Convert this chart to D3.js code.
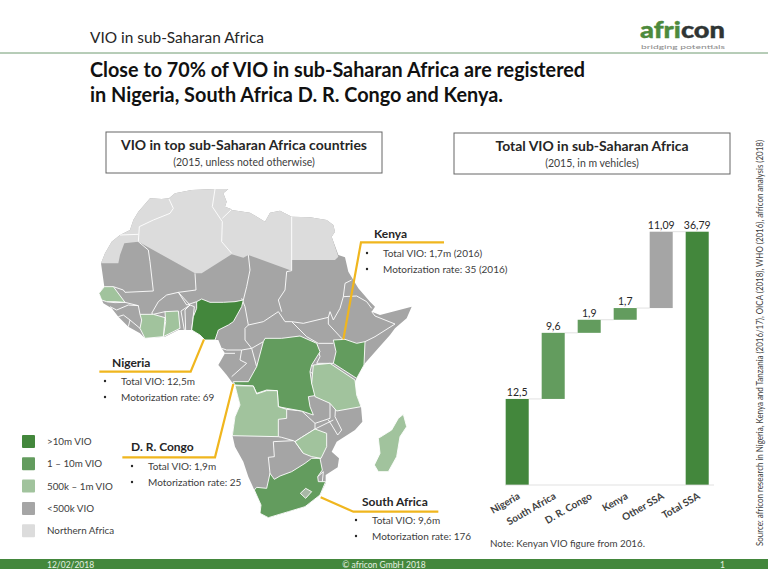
<!DOCTYPE html>
<html><head><meta charset="utf-8">
<script src="https://cdn.jsdelivr.net/npm/d3@7/dist/d3.min.js"></script>
<style>html,body{margin:0;padding:0;background:#fff}svg{display:block}text{font-family:Lato,"Open Sans",sans-serif}</style>
</head><body><svg id="c" width="768" height="576"></svg>
<script>
// ---- waterfall data
const categories=["Nigeria","South Africa","D. R. Congo","Kenya","Other SSA","Total SSA"];
const values=[12.5,9.6,1.9,1.7,11.09,36.79];
const valueLabels=["12,5","9,6","1,9","1,7","11,09","36,79"];
const barClass=["top","mid","mid","mid","small","top"];
// ---- legend
const legendLabels=[">10m VIO","1 – 10m VIO","500k – 1m VIO","<500k VIO","Northern Africa"];
const legendClass=["top","mid","light","small","north"];
const palette={top:"#43873c",mid:"#639c5e",light:"#a1c39d",small:"#a5a5a5",north:"#dcdcdc",lesotho:"#a8b8a6"};
// ---- callouts
const calloutNames=["Kenya","Nigeria","D. R. Congo","South Africa"];
const calloutVio=["Total VIO: 1,7m (2016)","Total VIO: 12,5m","Total VIO: 1,9m","Total VIO: 9,6m"];
const calloutRate=["Motorization rate: 35 (2016)","Motorization rate: 69","Motorization rate: 25","Motorization rate: 176"];
// ---- map geometry, in map-grid units (1320 x 1080 grid)
const continent=[[303,250],[315,220],[335,185],[360,165],[390,150],[400,120],[415,95],[450,55],[485,57],[507,55],[525,40],[575,30],[645,27],[685,27],[670,40],[680,65],[675,80],[693,87],[695,90],[750,98],[795,125],[810,98],[840,92],[875,110],[930,112],[980,120],[1000,135],[1005,155],[995,170],[1015,225],[1035,232],[1045,275],[1060,300],[1075,325],[1110,365],[1125,380],[1115,395],[1140,405],[1235,380],[1220,415],[1185,445],[1170,465],[1130,510],[1095,550],[1070,595],[1063,610],[1070,645],[1083,680],[1087,725],[1065,750],[1010,785],[995,815],[1017,835],[1013,862],[977,885],[977,910],[960,945],[915,980],[865,995],[805,1013],[780,1000],[783,975],[763,930],[745,890],[730,845],[705,800],[697,765],[705,710],[720,675],[705,615],[695,605],[680,585],[655,555],[675,520],[665,505],[655,480],[645,480],[615,480],[600,465],[575,450],[535,450],[495,470],[435,475],[420,460],[385,440],[355,410],[335,385],[310,370],[297,340],[313,320]];
const north=[[303,250],[315,220],[335,185],[360,165],[390,150],[400,120],[415,95],[450,55],[485,57],[507,55],[525,40],[575,30],[645,27],[685,27],[670,40],[680,65],[675,80],[693,87],[695,90],[750,98],[795,125],[810,98],[840,92],[875,110],[930,112],[980,120],[1000,135],[1005,155],[995,170],[1015,230],[1005,240],[875,240],[875,272],[745,225],[730,233],[695,223],[605,280],[585,280],[415,185],[373,190],[360,225],[355,250]];
const shapes=[
 {c:"top",p:[[590,365],[605,357],[630,367],[670,367],[705,365],[730,360],[725,380],[700,425],[685,435],[655,450],[645,480],[615,480],[600,465],[575,450],[580,410],[590,385]]},
 {c:"mid",p:[[795,475],[845,475],[900,468],[950,490],[960,515],[935,555],[930,575],[935,610],[955,645],[925,650],[930,680],[940,705],[905,693],[860,685],[835,680],[832,632],[800,630],[770,640],[760,618],[705,615],[700,605],[745,605],[770,560],[790,485]]},
 {c:"mid",p:[[1000,480],[1035,478],[1070,490],[1095,485],[1092,555],[1070,595],[1000,550],[1008,515]]},
 {c:"mid",p:[[763,930],[770,922],[800,925],[810,880],[823,898],[840,888],[875,875],[915,850],[935,835],[960,835],[967,870],[953,890],[955,905],[977,905],[960,945],[915,980],[865,995],[805,1013],[780,1000],[783,975]]},
 {c:"lesotho",p:[[901,940],[917,925],[935,935],[917,955]]},
 {c:"light",p:[[940,555],[990,550],[1065,600],[1070,645],[1083,680],[1010,693],[990,670],[945,650],[935,610]]},
 {c:"light",p:[[705,617],[760,618],[770,642],[800,632],[832,632],[835,680],[860,688],[860,715],[835,718],[835,770],[697,767],[705,710],[720,675]]},
 {c:"light",p:[[945,747],[980,760],[980,800],[963,835],[935,830],[910,820],[885,785],[905,772]]},
 {c:"light",p:[[1210,703],[1220,740],[1200,770],[1190,830],[1165,875],[1135,875],[1123,855],[1140,820],[1135,775],[1175,750],[1195,715]]},
 {c:"light",p:[[495,395],[535,393],[540,445],[490,470],[497,425]]},
 {c:"light",p:[[420,403],[460,403],[495,413],[490,470],[435,475],[420,445],[425,420]]},
 {c:"light",p:[[297,340],[313,320],[340,320],[375,367],[345,365],[320,365],[305,360]]}
];
const northBorders=[[[360,165],[415,163]],[[415,185],[418,140],[460,120],[510,100],[520,85],[507,57]],[[645,27],[637,80],[667,125],[665,185],[695,220]],[[667,115],[693,90]],[[875,110],[875,272]]];
const borders=[
 [[415,185],[445,210],[450,245],[460,333],[375,337],[370,330],[340,320]],
 [[585,280],[588,330],[535,337],[500,345],[475,365],[455,400]],
 [[535,337],[570,375],[543,393],[553,450]],[[570,375],[555,390],[557,450]],[[570,375],[583,380],[575,450]],[[535,337],[560,375],[590,365]],
 [[730,360],[740,320],[750,270],[745,225]],[[725,355],[735,380],[745,435],[735,445],[735,480],[755,505],[790,485]],
 [[745,435],[790,425],[835,395],[855,425],[875,425],[920,470],[955,490]],
 [[875,272],[860,275],[855,330],[835,360],[845,395]],
 [[875,425],[910,430],[985,412],[990,395],[1000,420],[1020,385],[1030,350],[1035,310],[1055,300]],
 [[1030,350],[1070,348],[1100,365],[1115,385]],
 [[1125,408],[1185,432],[1125,470],[1095,485]],[[1115,395],[1125,408]],
 [[985,412],[985,432],[1025,475],[1035,478]],[[955,490],[1000,490]],[[950,490],[960,530],[950,550],[1000,550]],
 [[665,505],[680,510],[725,510],[720,540],[740,550],[695,590]],[[755,505],[725,510]],[[755,505],[770,560]],[[675,520],[705,520]],
 [[930,575],[950,590],[935,610]],[[935,555],[952,572],[950,590]],
 [[860,688],[905,693],[945,730],[945,747],[905,772],[885,785],[880,782],[845,772],[835,770]],
 [[945,730],[990,715],[990,670]],[[990,670],[1007,675],[1005,710],[1025,750],[1013,765],[995,735],[985,720]],[[945,747],[1000,720]],
 [[820,785],[880,782]],[[820,785],[823,830],[805,832],[810,880],[810,925]],
 [[910,820],[885,785]],[[963,835],[960,835]],[[953,890],[970,875],[967,905]],
 [[375,367],[415,377],[420,403]],[[330,380],[350,390],[385,375],[415,377]],[[355,410],[370,405],[390,420],[385,440]],[[390,420],[420,445]],[[320,365],[345,368],[375,367]],
 [[495,395],[460,403],[455,400]]
];
// ---- texts
const headline=["Close to 70% of VIO in sub-Saharan Africa are registered","in Nigeria, South Africa D. R. Congo and Kenya."];
const boxTitles=["VIO in top sub-Saharan Africa countries","Total VIO in sub-Saharan Africa"];
const boxSubs=["(2015, unless noted otherwise)","(2015, in m vehicles)"];
const sourceText="Source: africon research in Nigeria, Kenya and Tanzania (2016/17), OICA (2018), WHO (2016), africon analysis (2018)";

const svg=d3.select("#c"), ink="#262626", soft="#404040";
function txt(g,x,y,s,size,o={}){return g.append("text").attr("x",x).attr("y",y).text(s).attr("font-size",size).attr("fill",o.fill||ink).attr("font-weight",o.w||400).attr("text-anchor",o.a||"start").attr("textLength",o.len||null).attr("lengthAdjust",o.len?"spacingAndGlyphs":null);}

// header
txt(svg,90,43,"VIO in sub-Saharan Africa",15,{len:174});
svg.append("line").attr("x1",0).attr("x2",768).attr("y1",53).attr("y2",53).attr("stroke","#6f9a70").attr("stroke-width",1);
headline.forEach((s,i)=>txt(svg,90,77+i*25,s,20.5,{w:700,fill:"#111",len:[495,413][i]}));
// logo
const logo=svg.append("text").attr("x",640).attr("y",37.5).attr("font-size",23).attr("font-weight",900).attr("textLength",85).attr("lengthAdjust","spacingAndGlyphs").attr("stroke-width",.4);
logo.append("tspan").text("afri").attr("fill","#4d8a3c").attr("stroke","#4d8a3c");logo.append("tspan").text("con").attr("fill","#2f3534").attr("stroke","#2f3534");
txt(svg,641,48.5,"bridging potentials",6,{fill:"#8a8a8a",len:84});
// footer
svg.append("rect").attr("x",0).attr("y",559).attr("width",768).attr("height",10).attr("fill",palette.top);
const ft={fill:"#e6f0e2"};
txt(svg,47,567.5,"12/02/2018",8.5,ft);txt(svg,384,567.5,"© africon GmbH 2018",8.5,{...ft,a:"middle"});txt(svg,720,567.5,"1",8.5,ft);
// boxes
[[106,132],[454,133]].forEach(([x,y],i)=>{
 svg.append("rect").attr("x",x).attr("y",y).attr("width",276).attr("height",41).attr("fill","#fff").attr("stroke","#666").attr("stroke-width",1);
 txt(svg,x+138,y+18,boxTitles[i],14,{w:700,a:"middle",len:[246,193][i]});
 txt(svg,x+138,y+34,boxSubs[i],10.5,{fill:soft,a:"middle"});
});
// source
svg.append("text").attr("transform","translate(763,546) rotate(-90)").text(sourceText).attr("font-size",9).attr("fill",soft).attr("textLength",406).attr("lengthAdjust","spacingAndGlyphs");

// map
const mx=d3.scaleLinear().domain([0,1320]).range([0,440]), my=d3.scaleLinear().domain([0,1080]).range([180,540]);
const line=d3.line().x(d=>mx(d[0])).y(d=>my(d[1]));
const area=p=>line(p)+"Z";
const map=svg.append("g");
const drawBorders=(data)=>map.append("g").selectAll("path").data(data).join("path").attr("d",line).attr("fill","none").attr("stroke","#fff").attr("stroke-width",.9).attr("stroke-linejoin","round");
map.append("path").attr("d",area(continent)).attr("fill",palette.small);
drawBorders(borders);
map.append("path").attr("d",area(north)).attr("fill",palette.north);
drawBorders(northBorders);
map.append("g").selectAll("path").data(shapes).join("path").attr("d",d=>area(d.p)).attr("fill",d=>palette[d.c]).attr("stroke","#fff").attr("stroke-width",.9).attr("stroke-linejoin","round");

// callouts
const calloutLines=[[[1030,478],[1083,187],[1332,187]],[[612,478],[572,575],[298,575]],[[700,612],[645,832],[367,832]],[[962,952],[1060,995],[1315,995]]];
const calloutAt=[[374,238,383],[112,367,121],[131,451,148],[362,506,372]];
const calloutBullet=[[367,253,269],[105,381,397],[132,466,482],[356,520,536]];
svg.append("g").selectAll("path").data(calloutLines).join("path").attr("d",line).attr("fill","none").attr("stroke","#f0b61e").attr("stroke-width",2.2);
calloutNames.forEach((n,i)=>{
 const [x,y,tx]=calloutAt[i],[bx,y1,y2]=calloutBullet[i];
 txt(svg,x,y,n,12,{w:700});
 [[y1,calloutVio[i]],[y2,calloutRate[i]]].forEach(([yy,s])=>{
  svg.append("circle").attr("cx",bx).attr("cy",yy).attr("r",1.2).attr("fill",ink);
  txt(svg,tx,yy+3.5,s,10,{fill:soft});
 });
});
// legend
legendLabels.forEach((s,i)=>{
 const y=435+i*22.3;
 svg.append("rect").attr("x",22).attr("y",y).attr("width",13).attr("height",13).attr("rx",1).attr("fill",palette[legendClass[i]]);
 txt(svg,47,y+10,s,9.8,{fill:soft});
});

// waterfall
const x=d3.scaleBand().domain(categories).range([499.2,715.2]).paddingInner(.36).paddingOuter(.18);
const y=d3.scaleLinear().domain([0,36.79]).range([485,231.7]);
let run=0;
const bars=categories.map((c,i)=>{const total=i===categories.length-1;const b=total?0:run;if(!total)run+=values[i];return {c,b,t:b+values[i],lab:valueLabels[i],k:barClass[i]};});
const w=svg.append("g");
w.selectAll("line.k").data(bars.slice(0,-1)).join("line").attr("class","k").attr("x1",d=>x(d.c)+x.bandwidth()).attr("x2",(d,i)=>x(bars[i+1].c)).attr("y1",d=>y(d.t)).attr("y2",d=>y(d.t)).attr("stroke","#d9d9d9").attr("stroke-width",.8);
w.selectAll("rect").data(bars).join("rect").attr("x",d=>x(d.c)).attr("width",x.bandwidth()).attr("y",d=>y(d.t)).attr("height",d=>y(d.b)-y(d.t)).attr("fill",d=>palette[d.k]);
w.selectAll("text.v").data(bars).join("text").attr("class","v").attr("x",d=>x(d.c)+x.bandwidth()/2).attr("y",d=>y(d.t)-3).attr("text-anchor","middle").attr("font-size",10.5).attr("fill",ink).text(d=>d.lab);
const ax=w.append("g").attr("transform","translate(0,485)").call(d3.axisBottom(x).tickSize(0).tickPadding(0));
ax.select(".domain").attr("stroke","#d9d9d9").attr("stroke-width",.8).attr("d","M505,0H714");
ax.selectAll("text").attr("font-size",10).attr("font-weight",700).attr("fill",soft).attr("text-anchor","end").attr("transform","translate(0,7) rotate(-30)").attr("dy",".7em");
txt(svg,490,547,"Note:  Kenyan VIO figure from 2016.",9.5,{fill:soft,len:155});
</script></body></html>
